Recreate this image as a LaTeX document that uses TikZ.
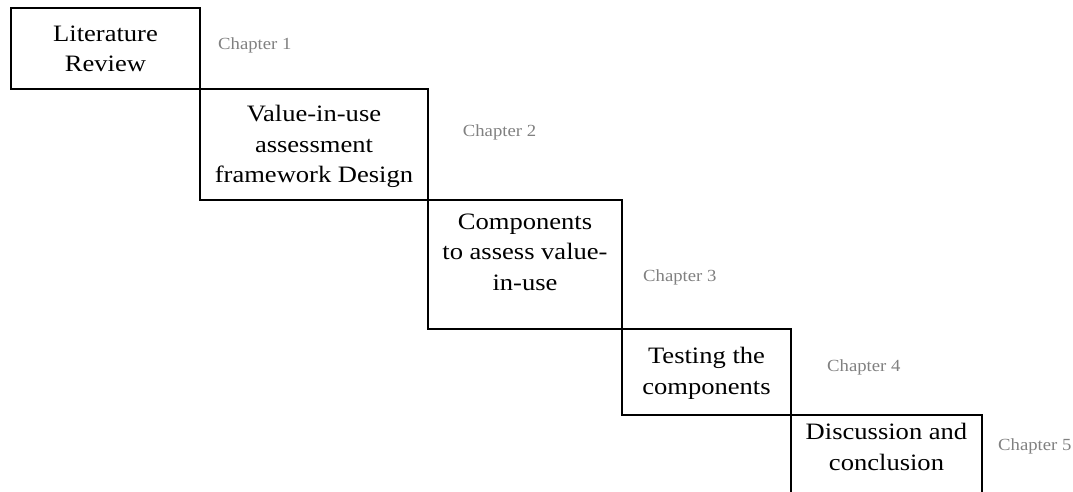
\documentclass[tikz,border=0pt]{standalone}
\usepackage{fontspec}
\setmainfont{Liberation Serif}[FakeStretch=1.13]
\newfontfamily\chapfont{Liberation Serif}[FakeStretch=1.1]
\definecolor{chaptergray}{RGB}{128,128,128}
\tikzset{
  stepbox/.style={draw=black, line width=1.2pt, rectangle, inner sep=0pt, outer sep=0pt, anchor=north west},
  steptext/.style={align=center, inner sep=0pt, anchor=base, font=\fontsize{23.5}{30.5}\selectfont},
  chaplabel/.style={inner sep=0pt, anchor=base west, text=chaptergray, font=\chapfont\fontsize{17}{20}\selectfont}
}
\begin{document}
\begin{tikzpicture}[x=1pt, y=-1pt]
  \useasboundingbox (0,0) rectangle (1073,491);
  % staircase of boxes, each hanging from the lower right corner of the last
  \node[stepbox, minimum width=189pt, minimum height=81pt] (b1) at (11,8) {};
  \node[stepbox, minimum width=228pt, minimum height=111pt] (b2) at (b1.south east) {};
  \node[stepbox, minimum width=194pt, minimum height=129pt] (b3) at (b2.south east) {};
  \node[stepbox, minimum width=169pt, minimum height=86pt] (b4) at (b3.south east) {};
  \node[stepbox, minimum width=191pt, minimum height=90pt] (b5) at (b4.south east) {};
  % box texts (anchored at the baseline of the last line)
  \node[steptext] (t1) at (105.5,71.7) {Literature\\Review};
  \node[steptext] (t2) at (314,182.7) {Value-in-use\\assessment\\framework Design};
  \node[steptext] (t3) at (525,290) {Components\\to assess value-\\in-use};
  \node[steptext] (t4) at (706.5,394) {Testing the\\components};
  \node[steptext] (t5) at (886.5,470) {Discussion and\\conclusion};
  % chapter labels
  \node[chaplabel] (c1) at (218,49.3) {Chapter 1};
  \node[chaplabel] (c2) at (462.7,136) {Chapter 2};
  \node[chaplabel] (c3) at (643,281) {Chapter 3};
  \node[chaplabel] (c4) at (827,371) {Chapter 4};
  \node[chaplabel] (c5) at (998,450) {Chapter 5};
\end{tikzpicture}
\end{document}
